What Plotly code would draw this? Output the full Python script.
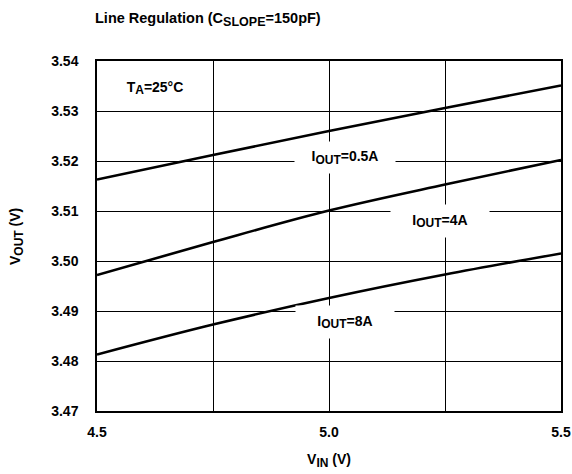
import plotly.graph_objects as go

vin = [4.5, 4.75, 5.0, 5.25, 5.5]
vout_05a = [3.5163, 3.5212, 3.5260, 3.5306, 3.5351]
vout_4a = [3.4972, 3.5038, 3.5101, 3.5153, 3.5202]
vout_8a = [3.4813, 3.4873, 3.4926, 3.4973, 3.5015]

x_ticks = [4.5, 4.75, 5.0, 5.25, 5.5]
x_ticktext = ["4.5", "", "5.0", "", "5.5"]
y_ticks = [3.47, 3.48, 3.49, 3.50, 3.51, 3.52, 3.53, 3.54]
y_ticktext = ["3.47", "3.48", "3.49", "3.50", "3.51", "3.52", "3.53", "3.54"]

FONT = "Liberation Sans, Arial, sans-serif"
FS = 14
W, H = 572, 474
L, R, T, B = 97, 11, 61, 63


def sub(s, size=12):
    return "<sub><span style='font-size:%spx'>%s</span></sub>" % (size, s)


fig = go.Figure()
for ys in (vout_05a, vout_4a, vout_8a):
    fig.add_trace(go.Scatter(x=vin, y=ys, mode="lines",
                             line=dict(color="black", width=2.6, shape="spline", smoothing=1.0),
                             showlegend=False, hoverinfo="skip"))

labels = [
    (4.625, 3.5346, "T" + sub("A") + "=25°C", 100, 26, "rgba(0,0,0,0)"),
    (5.034, 3.5207, "I" + sub("OUT") + "=0.5A", 98, 29, "white"),
    (5.239, 3.5080, "I" + sub("OUT") + "=4A", 96, 30, "white"),
    (5.034, 3.4878, "I" + sub("OUT") + "=8A", 96, 30, "white"),
]
for x, y, t, w, h, bg in labels:
    fig.add_annotation(x=x, y=y, xref="x", yref="y", text=t, showarrow=False,
                       width=w, height=h, bgcolor=bg, align="center", valign="middle",
                       font=dict(family=FONT, size=FS, color="black", weight="bold"))

# y-axis title placed by pixel offset from the plot's left edge
fig.add_annotation(x=0, y=0.5, xref="paper", yref="paper", xanchor="center", yanchor="middle",
                   xshift=16 - L, yshift=-1, textangle=-90, showarrow=False,
                   text="V" + sub("OUT") + " (V)",
                   font=dict(family=FONT, size=FS, color="black", weight="bold"))

fig.update_layout(
    width=W, height=H,
    margin=dict(l=L, r=R, t=T, b=B),
    paper_bgcolor="white", plot_bgcolor="white",
    font=dict(family=FONT, size=FS, color="black", weight="bold"),
    title=dict(text="Line Regulation (C" + sub("SLOPE", 12.5) + "=150pF)",
               x=95 / W, xanchor="left", xref="container",
               y=1 - 18 / H, yanchor="middle", yref="container",
               font=dict(family=FONT, size=14.5, color="black", weight="bold")),
    xaxis=dict(range=[4.5, 5.5], tickvals=x_ticks, ticktext=x_ticktext,
               showgrid=True, gridcolor="black", gridwidth=1.2,
               showline=True, linecolor="black", linewidth=1.5, mirror=True,
               ticks="", ticklabelstandoff=7, zeroline=False, automargin=False,
               title=dict(text="V" + sub("IN") + " (V)", standoff=16,
                          font=dict(family=FONT, size=FS, weight="bold"))),
    yaxis=dict(range=[3.47, 3.54], tickvals=y_ticks, ticktext=y_ticktext,
               showgrid=True, gridcolor="black", gridwidth=1.2,
               showline=True, linecolor="black", linewidth=1.5, mirror=True,
               ticks="", ticklabelstandoff=14, zeroline=False, automargin=False),
)

fig.write_html("out.html", config={"displayModeBar": False},
               post_script="document.body.style.margin='0';document.body.style.overflow='hidden';")
